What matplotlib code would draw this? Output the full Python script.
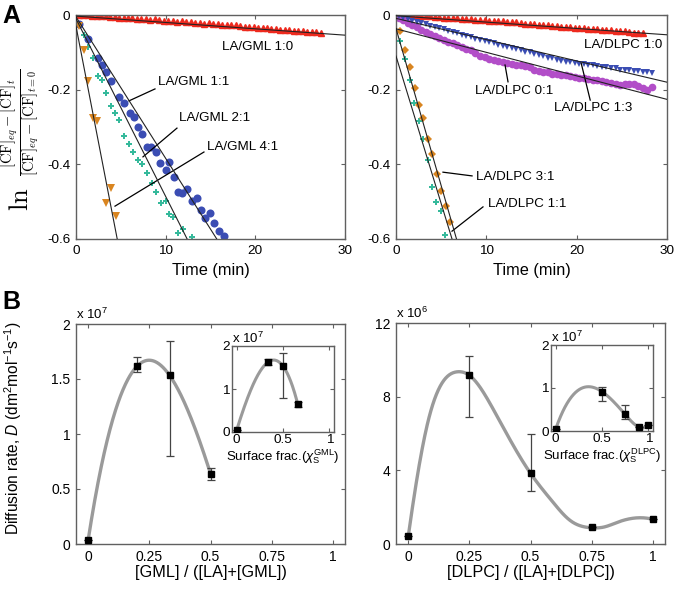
import numpy as np
import matplotlib
matplotlib.use('Agg')
import matplotlib.pyplot as plt

plt.rcParams['font.family'] = ['Liberation Sans', 'DejaVu Sans']
plt.rcParams['mathtext.fontset'] = 'custom'
plt.rcParams['mathtext.rm'] = 'Liberation Sans'
plt.rcParams['mathtext.it'] = 'Liberation Sans:italic'
plt.rcParams['mathtext.bf'] = 'Liberation Sans:bold'
plt.rcParams['axes.unicode_minus'] = False

# ---------------- Panel A data (time in min, ln ratio) ----------------
t_gml_10 = [0.3, 0.8, 1.3, 1.8, 2.3, 2.8, 3.3, 3.8, 4.3, 4.8, 5.3, 5.8, 6.3, 6.8, 7.3, 7.8, 8.3, 8.8,
            9.3, 9.8, 10.3, 10.8, 11.3, 11.8, 12.3, 12.8, 13.3, 13.8, 14.3, 14.8, 15.3, 15.8, 16.3,
            16.8, 17.3, 17.8, 18.3, 18.8, 19.3, 19.8, 20.3, 20.8, 21.3, 21.8, 22.3, 22.8, 23.3, 23.8,
            24.3, 24.8, 25.3, 25.8, 26.3, 26.8, 27.3]
y_gml_10 = [0.000, -0.001, 0.000, -0.002, -0.003, -0.002, -0.004, -0.005, -0.005, -0.007, -0.008,
            -0.007, -0.009, -0.010, -0.010, -0.012, -0.013, -0.012, -0.014, -0.015, -0.015, -0.017,
            -0.018, -0.017, -0.019, -0.020, -0.021, -0.022, -0.023, -0.022, -0.024, -0.025, -0.026,
            -0.027, -0.028, -0.028, -0.030, -0.031, -0.031, -0.033, -0.034, -0.034, -0.036, -0.037,
            -0.037, -0.039, -0.040, -0.040, -0.042, -0.043, -0.043, -0.045, -0.046, -0.046, -0.048]

t_gml_11 = [0.35, 1.35, 2.4, 2.9, 3.4, 3.95, 4.85, 5.4, 6.0, 6.45, 6.95, 7.4, 7.9, 8.4, 8.9, 9.4,
            10.0, 10.35, 10.9, 11.4, 11.8, 12.35, 12.95, 13.45, 13.9, 14.4, 14.9, 15.4, 15.9, 16.45]
y_gml_11 = [-0.025, -0.065, -0.115, -0.135, -0.152, -0.176, -0.219, -0.236, -0.262, -0.272, -0.300,
            -0.318, -0.353, -0.353, -0.366, -0.396, -0.415, -0.395, -0.434, -0.475, -0.476, -0.466,
            -0.498, -0.490, -0.521, -0.543, -0.530, -0.556, -0.578, -0.592]

t_gml_21 = [0.4, 0.85, 1.35, 1.85, 2.4, 2.9, 3.35, 3.85, 4.35, 4.85, 5.3, 5.9, 6.4, 6.9, 7.35, 7.9,
            8.45, 8.9, 9.45, 10.0, 10.4, 10.85, 11.4, 11.9, 12.95]
y_gml_21 = [-0.027, -0.054, -0.085, -0.115, -0.163, -0.175, -0.208, -0.245, -0.263, -0.280, -0.324,
            -0.346, -0.368, -0.388, -0.400, -0.422, -0.451, -0.473, -0.504, -0.498, -0.534, -0.542,
            -0.585, -0.574, -0.595]

t_gml_41 = [0.35, 0.85, 1.37, 1.95, 2.3, 3.35, 3.9, 4.42]
y_gml_41 = [-0.029, -0.094, -0.177, -0.277, -0.284, -0.503, -0.464, -0.539]

t_dlpc_10 = [0.3, 0.8, 1.3, 1.8, 2.3, 2.8, 3.3, 3.8, 4.3, 4.8, 5.3, 5.8, 6.3, 6.8, 7.3, 7.8, 8.3, 8.8,
             9.3, 9.8, 10.3, 10.8, 11.3, 11.8, 12.3, 12.8, 13.3, 13.8, 14.3, 14.8, 15.3, 15.8, 16.3,
             16.8, 17.3, 17.8, 18.3, 18.8, 19.3, 19.8, 20.3, 20.8, 21.3, 21.8, 22.3, 22.8, 23.3, 23.8,
             24.3, 24.8, 25.3, 25.8, 26.3, 26.8, 27.3]
y_dlpc_10 = [0.001, 0.000, -0.001, 0.000, -0.002, -0.003, -0.002, -0.004, -0.005, -0.005, -0.007,
             -0.008, -0.007, -0.009, -0.010, -0.011, -0.011, -0.013, -0.014, -0.013, -0.015, -0.016,
             -0.017, -0.017, -0.019, -0.020, -0.020, -0.022, -0.023, -0.023, -0.025, -0.026, -0.026,
             -0.028, -0.029, -0.029, -0.031, -0.032, -0.032, -0.034, -0.035, -0.035, -0.037, -0.038,
             -0.038, -0.040, -0.041, -0.041, -0.043, -0.044, -0.044, -0.046, -0.047, -0.047, -0.049]

t_dlpc_13 = [0.3, 0.8, 1.3, 1.8, 2.3, 2.8, 3.3, 3.8, 4.3, 4.8, 5.3, 5.8, 6.3, 6.8, 7.3, 7.8, 8.3, 8.8,
             9.3, 9.8, 10.3, 10.8, 11.3, 11.8, 12.3, 12.8, 13.3, 13.8, 14.3, 14.8, 15.3, 15.8, 16.3,
             16.8, 17.3, 17.8, 18.3, 18.8, 19.3, 19.8, 20.3, 20.8, 21.3, 21.8, 22.3, 22.8, 23.3, 23.8,
             24.3, 24.8, 25.3, 25.8, 26.3, 26.8, 27.3, 27.8, 28.3]
y_dlpc_13 = [-0.004, -0.008, -0.011, -0.015, -0.018, -0.022, -0.025, -0.029, -0.031, -0.036, -0.038,
             -0.042, -0.046, -0.048, -0.053, -0.056, -0.058, -0.063, -0.066, -0.069, -0.073, -0.075,
             -0.080, -0.082, -0.086, -0.089, -0.091, -0.095, -0.098, -0.100, -0.105, -0.107, -0.111,
             -0.114, -0.116, -0.121, -0.122, -0.125, -0.126, -0.128, -0.130, -0.131, -0.134, -0.135,
             -0.137, -0.139, -0.140, -0.142, -0.143, -0.146, -0.146, -0.148, -0.150, -0.150, -0.153,
             -0.152, -0.155]

t_dlpc_01 = t_dlpc_13
y_dlpc_01 = [-0.009, -0.014, -0.021, -0.027, -0.033, -0.040, -0.045, -0.051, -0.057, -0.062, -0.066,
             -0.072, -0.076, -0.081, -0.085, -0.090, -0.093, -0.103, -0.110, -0.112, -0.117, -0.120,
             -0.122, -0.127, -0.128, -0.131, -0.133, -0.135, -0.137, -0.140, -0.146, -0.151, -0.152,
             -0.154, -0.157, -0.158, -0.160, -0.162, -0.164, -0.166, -0.168, -0.169, -0.171, -0.173,
             -0.175, -0.177, -0.179, -0.182, -0.185, -0.187, -0.186, -0.185, -0.186, -0.190, -0.196,
             -0.200, -0.194]

t_dlpc_31 = [0.45, 1.0, 1.55, 2.05, 2.55, 3.0, 3.55, 4.0, 4.5, 5.0, 5.5, 6.0]
y_dlpc_31 = [-0.042, -0.093, -0.138, -0.195, -0.240, -0.276, -0.332, -0.373, -0.425, -0.471, -0.511, -0.554]

t_dlpc_11 = [0.45, 1.0, 1.5, 1.95, 2.5, 3.0, 3.5, 3.95, 4.45, 4.95, 5.45]
y_dlpc_11 = [-0.069, -0.119, -0.174, -0.237, -0.285, -0.332, -0.388, -0.460, -0.500, -0.524, -0.588]

# linear fits: (intercept, slope)
fit_gml = {'1:0': (-0.003, -0.0017), '1:1': (-0.005, -0.0379),
           '2:1': (-0.010, -0.0476), '4:1': (-0.030, -0.124)}
fit_dlpc = {'1:0': (-0.002, -0.0017), '1:3': (-0.009, -0.0057), '0:1': (-0.037, -0.0063),
            '3:1': (-0.036, -0.0842), '1:1': (-0.110, -0.0790)}

# ---------------- Panel B data ----------------
frac_gml = [0.0, 0.2, 0.333, 0.5]
surf_gml = [0.0, 0.333, 0.5, 0.66]
D_gml = [0.04, 1.617, 1.532, 0.64]          # x 1e7
D_gml_lo = [0.0, 0.05, 0.73, 0.06]
D_gml_hi = [0.0, 0.085, 0.314, 0.05]

frac_dlpc = [0.0, 0.25, 0.5, 0.75, 1.0]
surf_dlpc = [0.0, 0.5, 0.75, 0.9, 1.0]
D_dlpc = [0.41, 9.16, 3.84, 0.90, 1.34]      # x 1e6
D_dlpc_lo = [0.0, 2.26, 0.94, 0.0, 0.0]
D_dlpc_hi = [0.0, 1.04, 2.16, 0.0, 0.0]

# guide curve (gray)
guide_x_dlpc = [0.0, 0.04, 0.08, 0.13, 0.2, 0.25, 0.34, 0.4, 0.5, 0.59, 0.66, 0.75, 0.8, 0.86, 0.92, 1.0]
guide_y_dlpc = [0.41, 3.9, 6.6, 8.55, 9.35, 9.16, 7.5, 6.05, 3.84, 2.3, 1.3, 0.88, 0.92, 1.2, 1.4, 1.34]


def spline_nak(x, y, xs):
    x = np.asarray(x, float); y = np.asarray(y, float); xs = np.asarray(xs, float)
    n = len(x)
    if n <= 4:
        return np.polyval(np.polyfit(x, y, n - 1), xs)
    h = np.diff(x)
    A = np.zeros((n, n)); b = np.zeros(n)
    A[0, 0] = h[1]; A[0, 1] = -(h[0] + h[1]); A[0, 2] = h[0]
    A[-1, -3] = h[-1]; A[-1, -2] = -(h[-2] + h[-1]); A[-1, -1] = h[-2]
    for i in range(1, n - 1):
        A[i, i - 1] = h[i - 1]; A[i, i] = 2 * (h[i - 1] + h[i]); A[i, i + 1] = h[i]
        b[i] = 6 * ((y[i + 1] - y[i]) / h[i] - (y[i] - y[i - 1]) / h[i - 1])
    M = np.linalg.solve(A, b)
    idx = np.clip(np.searchsorted(x, xs) - 1, 0, n - 2)
    xi = x[idx]; xi1 = x[idx + 1]; hi = xi1 - xi
    return ((M[idx] * (xi1 - xs) ** 3 + M[idx + 1] * (xs - xi) ** 3) / (6 * hi)
            + (y[idx] / hi - M[idx] * hi / 6) * (xi1 - xs)
            + (y[idx + 1] / hi - M[idx + 1] * hi / 6) * (xs - xi))


SPINE = '#606060'
W, H = 675, 590


def px_axes(fig, x0, x1, y0, y1):
    return fig.add_axes([x0 / W, 1 - y1 / H, (x1 - x0) / W, (y1 - y0) / H])


def style(ax, fs=9.7, pad=4):
    for s in ax.spines.values():
        s.set_color(SPINE); s.set_linewidth(1.0)
    ax.tick_params(direction='in', top=True, right=True, length=3, width=0.8,
                   color=SPINE, labelsize=fs, pad=pad)


fig = plt.figure(figsize=(6.75, 5.9), dpi=100)

RED = '#ee2a1e'; BLUE = '#3b4db3'; GREEN = '#35b99b'; ORANGE = '#d98520'; PURPLE = '#b24ec8'
tt = np.array([0.0, 30.0])

# ---- A left
ax1 = px_axes(fig, 76, 345, 15, 239)
for key, (b0, m) in fit_gml.items():
    ax1.plot(tt, b0 + m * tt, color='#222222', lw=0.8, zorder=3)
ax1.plot(t_gml_10, y_gml_10, '^', color=RED, ms=3.8, mec=RED, zorder=2)
ax1.plot(t_gml_21, y_gml_21, 'P', color=GREEN, ms=4.0, mew=0, zorder=2)
ax1.plot(t_gml_11, y_gml_11, 'o', color=BLUE, ms=5.8, mew=0, zorder=2)
ax1.plot(t_gml_41, y_gml_41, 'v', color=ORANGE, ms=6, mew=0, zorder=2)
ax1.set_xlim(0, 30); ax1.set_ylim(-0.6, 0)
ax1.set_xticks([0, 10, 20, 30]); ax1.set_yticks([-0.6, -0.4, -0.2, 0])
ax1.set_yticklabels(['-0.6', '-0.4', '-0.2', '0'])
style(ax1)
ax1.set_xlabel('Time (min)', fontsize=11.7, labelpad=5)

ann = dict(fontsize=9.6, ha='center', va='center')
ax1.text(20.2, -0.086, 'LA/GML 1:0', **ann)
ax1.text(13.1, -0.180, 'LA/GML 1:1', **ann)
ax1.plot([8.81, 5.91], [-0.198, -0.230], color='k', lw=0.9)
ax1.text(15.4, -0.276, 'LA/GML 2:1', **ann)
ax1.plot([11.26, 7.47], [-0.303, -0.380], color='k', lw=0.9)
ax1.text(18.6, -0.354, 'LA/GML 4:1', **ann)
ax1.plot([14.27, 4.35], [-0.367, -0.512], color='k', lw=0.9)

# ---- A right
ax2 = px_axes(fig, 396, 667, 15, 239)
for key, (b0, m) in fit_dlpc.items():
    ax2.plot(tt, b0 + m * tt, color='#222222', lw=0.8, zorder=3)
ax2.plot(t_dlpc_10, y_dlpc_10, '^', color=RED, ms=3.8, mec=RED, zorder=2)
ax2.plot(t_dlpc_01, y_dlpc_01, 'o', color=PURPLE, ms=5.5, mew=0, zorder=2)
ax2.plot(t_dlpc_13, y_dlpc_13, 'v', color=BLUE, ms=4.8, mew=0, zorder=2)
ax2.plot(t_dlpc_11, y_dlpc_11, 'P', color=GREEN, ms=4.0, mew=0, zorder=2)
ax2.plot(t_dlpc_31, y_dlpc_31, 'D', color=ORANGE, ms=4.2, mew=0, zorder=2)
ax2.set_xlim(0, 30); ax2.set_ylim(-0.6, 0)
ax2.set_xticks([0, 10, 20, 30]); ax2.set_yticks([-0.6, -0.4, -0.2, 0])
ax2.set_yticklabels(['-0.6', '-0.4', '-0.2', '0'])
style(ax2)
ax2.set_xlabel('Time (min)', fontsize=11.7, labelpad=5)
ax2.text(25.1, -0.080, 'LA/DLPC 1:0', **ann)
ax2.text(13.1, -0.204, 'LA/DLPC 0:1', **ann)
ax2.plot([12.4, 12.07], [-0.179, -0.134], color='k', lw=0.9)
ax2.text(21.8, -0.249, 'LA/DLPC 1:3', **ann)
ax2.plot([21.5, 20.5], [-0.228, -0.129], color='k', lw=0.9)
ax2.text(13.2, -0.434, 'LA/DLPC 3:1', **ann)
ax2.plot([8.42, 5.2], [-0.431, -0.421], color='k', lw=0.9)
ax2.text(14.56, -0.506, 'LA/DLPC 1:1', **ann)
ax2.plot([9.63, 6.2], [-0.514, -0.579], color='k', lw=0.9)

# y label of panel A: "ln" + fraction (serif, Computer Modern)
fig.text(21 / W, 1 - 199 / H, r'$\ln$', rotation=90, ha='center', va='center',
         fontsize=19, math_fontfamily='cm')
fig.text(21 / W, 1 - 122 / H,
         r'$\frac{[\mathrm{CF}]_{eq}-[\mathrm{CF}]_{t}}{[\mathrm{CF}]_{eq}-[\mathrm{CF}]_{t=0}}$',
         rotation=90, ha='center', va='center', fontsize=15, math_fontfamily='cm')

fig.text(2 / W, 1 - 16 / H, 'A', fontsize=18, fontweight='bold', ha='left', va='center')
fig.text(2 / W, 1 - 302 / H, 'B', fontsize=18, fontweight='bold', ha='left', va='center')

CURVE = '#9a9a9a'
EB = dict(fmt='none', ecolor='#444444', elinewidth=0.9, capsize=2.8, capthick=0.9, zorder=3)

# ---- B left
ax3 = px_axes(fig, 76, 345, 324, 544)
xs = np.linspace(frac_gml[0], frac_gml[-1], 300)
ax3.plot(xs, spline_nak(frac_gml, D_gml, xs), color=CURVE, lw=2.4, zorder=2, solid_capstyle='round')
ax3.errorbar(frac_gml, D_gml, yerr=[D_gml_lo, D_gml_hi], **EB)
ax3.plot(frac_gml, D_gml, 's', color='k', ms=5.0, zorder=4)
ax3.set_xlim(-0.05, 1.05); ax3.set_ylim(0, 2)
ax3.set_xticks([0, 0.25, 0.5, 0.75, 1]); ax3.set_xticklabels(['0', '0.25', '0.5', '0.75', '1'])
ax3.set_yticks([0, 0.5, 1, 1.5, 2]); ax3.set_yticklabels(['0', '0.5', '1', '1.5', '2'])
style(ax3, 10)
ax3.tick_params(axis='x', pad=4)
ax3.set_xlabel('[GML] / ([LA]+[GML])', fontsize=11.7, labelpad=1)
ax3.text(0.0, 1.008, r'x 10$^{7}$', transform=ax3.transAxes, fontsize=9.5, ha='left', va='bottom')
fig.text(13 / W, 1 - 428 / H, r'Diffusion rate, $D$ (dm$^{2}$mol$^{-1}$s$^{-1}$)',
         rotation=90, ha='center', va='center', fontsize=11.2)

# inset GML
ax3i = px_axes(fig, 232, 334, 346, 432)
xs = np.linspace(surf_gml[0], surf_gml[-1], 300)
ax3i.plot(xs, spline_nak(surf_gml, D_gml, xs), color=CURVE, lw=2.2, zorder=2)
ax3i.errorbar(surf_gml, D_gml, yerr=[D_gml_lo, D_gml_hi], **EB)
ax3i.plot(surf_gml, D_gml, 's', color='k', ms=4.2, zorder=4)
ax3i.set_xlim(-0.05, 1.05); ax3i.set_ylim(0, 2)
ax3i.set_xticks([0, 0.5, 1]); ax3i.set_xticklabels(['0', '0.5', '1'])
ax3i.set_yticks([0, 1, 2]); ax3i.set_yticklabels(['0', '1', '2'])
style(ax3i, 9.7, 1.5)
ax3i.set_xlabel(r'Surface frac.($\chi_{\mathrm{S}}^{\mathrm{GML}}$)', fontsize=9.5, labelpad=1)
ax3i.text(0.0, 1.0, r'x 10$^{7}$', transform=ax3i.transAxes, fontsize=9.5, ha='left', va='bottom')

# ---- B right
ax4 = px_axes(fig, 396, 665, 323, 544)
xs = np.linspace(guide_x_dlpc[0], guide_x_dlpc[-1], 400)
ax4.plot(xs, spline_nak(guide_x_dlpc, guide_y_dlpc, xs), color=CURVE, lw=2.4, zorder=2)
ax4.errorbar(frac_dlpc, D_dlpc, yerr=[D_dlpc_lo, D_dlpc_hi], **EB)
ax4.plot(frac_dlpc, D_dlpc, 's', color='k', ms=5.0, zorder=4)
ax4.set_xlim(-0.05, 1.05); ax4.set_ylim(0, 12)
ax4.set_xticks([0, 0.25, 0.5, 0.75, 1]); ax4.set_xticklabels(['0', '0.25', '0.5', '0.75', '1'])
ax4.set_yticks([0, 4, 8, 12]); ax4.set_yticklabels(['0', '4', '8', '12'])
style(ax4, 10)
ax4.tick_params(axis='x', pad=4)
ax4.set_xlabel('[DLPC] / ([LA]+[DLPC])', fontsize=11.7, labelpad=1)
ax4.text(0.0, 1.008, r'x 10$^{6}$', transform=ax4.transAxes, fontsize=9.5, ha='left', va='bottom')

# inset DLPC
ax4i = px_axes(fig, 551, 653, 345, 431)
surf_D = [v / 10 for v in D_dlpc]
surf_lo = [v / 10 for v in D_dlpc_lo]
surf_hi = [v / 10 for v in D_dlpc_hi]
xs = np.linspace(surf_dlpc[0], surf_dlpc[-1], 300)
ax4i.plot(xs, spline_nak(surf_dlpc, surf_D, xs), color=CURVE, lw=2.2, zorder=2)
ax4i.errorbar(surf_dlpc, surf_D, yerr=[surf_lo, surf_hi], **EB)
ax4i.plot(surf_dlpc, surf_D, 's', color='k', ms=4.2, zorder=4)
ax4i.set_xlim(-0.05, 1.05); ax4i.set_ylim(0, 2)
ax4i.set_xticks([0, 0.5, 1]); ax4i.set_xticklabels(['0', '0.5', '1'])
ax4i.set_yticks([0, 1, 2]); ax4i.set_yticklabels(['0', '1', '2'])
style(ax4i, 9.7, 1.5)
ax4i.set_xlabel(r'Surface frac.($\chi_{\mathrm{S}}^{\mathrm{DLPC}}$)', fontsize=9.5, labelpad=1)
ax4i.text(0.0, 1.0, r'x 10$^{7}$', transform=ax4i.transAxes, fontsize=9.5, ha='left', va='bottom')

fig.savefig('out.png', dpi=100)
